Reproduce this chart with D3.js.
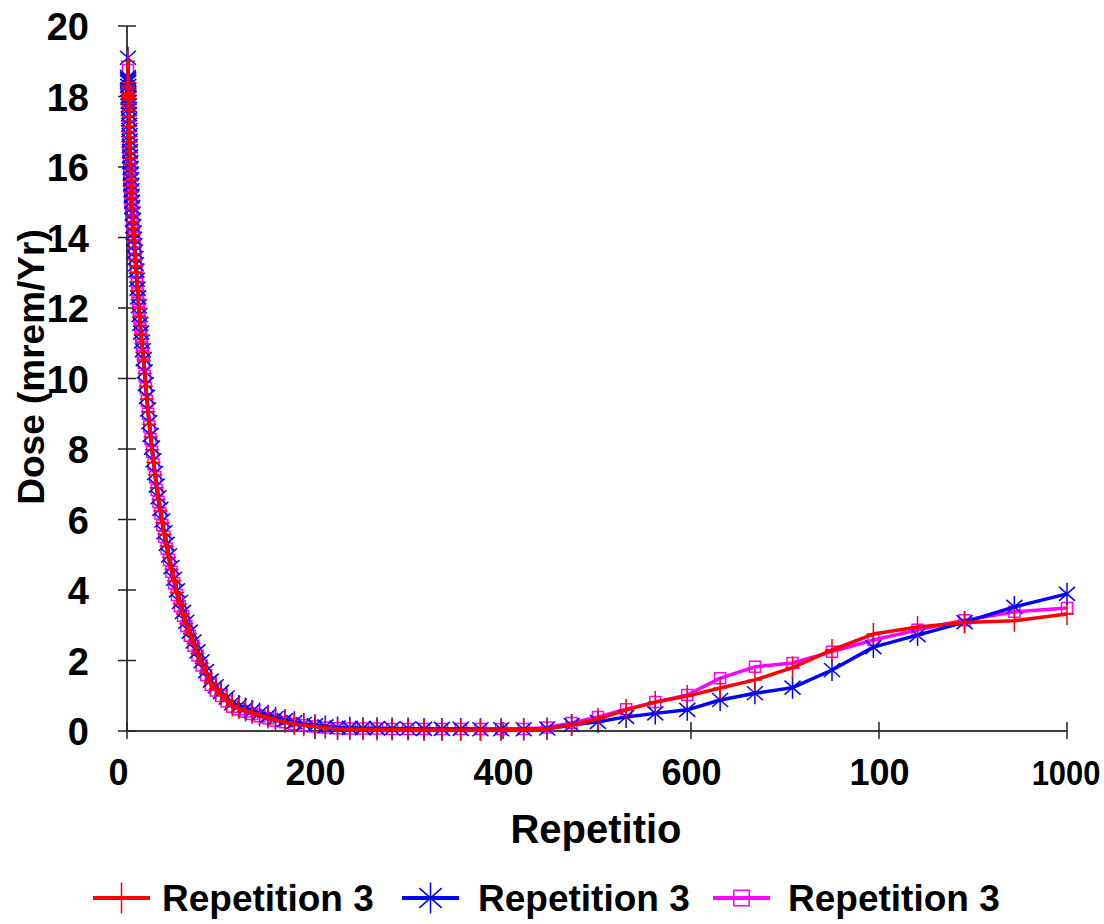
<!DOCTYPE html>
<html>
<head>
<meta charset="utf-8">
<script src="https://cdn.jsdelivr.net/npm/d3@7"></script>
<style>
  html, body { margin: 0; padding: 0; background: #fff; }
  svg { display: block; }
  text { font-family: "Liberation Sans", Arial, sans-serif; font-weight: bold; fill: #000; }
</style>
</head>
<body>
<svg id="chart" width="1104" height="924"></svg>
<script>
// ---------- data ----------
const repetition = [
  1, 1.06, 1.12, 1.19, 1.26, 1.33, 1.41, 1.5, 1.58, 1.68,
  1.78, 1.88, 2, 2.11, 2.24, 2.37, 2.51, 2.66, 2.82, 2.99,
  3.16, 3.35, 3.55, 3.76, 3.98, 4.22, 4.47, 4.73, 5.01, 5.31,
  5.62, 5.96, 6.31, 6.68, 7.08, 7.5, 7.94, 8.41, 8.91, 9.44,
  10, 10.6, 11.2, 11.9, 12.6, 13.3, 14.1, 15, 15.8, 16.8,
  17.8, 18.8, 20, 21.1, 22.4, 23.7, 25.1, 26.6, 28.2, 29.9,
  31.6, 33.5, 35.5, 37.6, 39.8, 42.2, 44.7, 47.3, 50.1, 53.1,
  56.2, 59.6, 63.1, 66.8, 70.8, 75, 79.4, 84.1, 89.1, 94.4,
  100, 106, 112, 119, 126, 133, 141, 150, 158, 168,
  178, 188, 200, 211, 224, 237, 251, 266, 282, 299,
  316, 335, 355, 376, 398, 422, 447, 473, 501, 531,
  562, 596, 631, 668, 708, 750, 794, 841, 891, 944,
  1000
];

const doseRed = [
  19.0, 18.4, 18.3, 18.25, 18.2, 18.1, 18.05, 18.0, 17.95, 17.9,
  17.8, 17.7, 17.6, 17.45, 17.3, 17.15, 17.0, 16.85, 16.7, 16.55,
  16.4, 16.24, 16.08, 15.92, 15.76, 15.6, 15.44, 15.28, 15.12, 14.96,
  14.8, 14.62, 14.44, 14.26, 14.08, 13.9, 13.72, 13.54, 13.36, 13.18,
  13.0, 12.75, 12.5, 12.25, 12.0, 11.75, 11.5, 11.25, 11.0, 10.75,
  10.5, 10.14, 9.78, 9.42, 9.06, 8.7, 8.34, 7.98, 7.62, 7.26,
  6.9, 6.57, 6.24, 5.91, 5.58, 5.25, 4.92, 4.59, 4.26, 3.93,
  3.6, 3.32, 3.04, 2.76, 2.48, 2.2, 1.92, 1.64, 1.36, 1.2,
  1.04, 0.88, 0.72, 0.65, 0.58, 0.51, 0.44, 0.38, 0.32, 0.26,
  0.2, 0.165, 0.13, 0.095, 0.06, 0.05, 0.05, 0.04, 0.04, 0.04,
  0.03, 0.03, 0.03, 0.03, 0.03, 0.04, 0.06, 0.17, 0.34, 0.6,
  0.82, 0.99, 1.22, 1.45, 1.8, 2.3, 2.75, 2.95, 3.08, 3.13,
  3.32
];

const doseBlue = [
  19.1, 18.55, 18.5, 18.45, 18.4, 18.3, 18.2, 18.1, 18.0, 17.95,
  17.85, 17.75, 17.65, 17.5, 17.35, 17.2, 17.05, 16.9, 16.75, 16.6,
  16.45, 16.3, 16.14, 15.98, 15.82, 15.66, 15.5, 15.34, 15.18, 15.02,
  14.86, 14.68, 14.5, 14.32, 14.14, 13.96, 13.78, 13.6, 13.42, 13.24,
  13.06, 12.8, 12.55, 12.3, 12.05, 11.8, 11.55, 11.3, 11.05, 10.8,
  10.55, 10.2, 9.84, 9.48, 9.12, 8.76, 8.4, 8.04, 7.68, 7.32,
  6.96, 6.63, 6.3, 5.97, 5.64, 5.31, 4.98, 4.65, 4.32, 3.99,
  3.66, 3.38, 3.1, 2.82, 2.54, 2.26, 1.98, 1.7, 1.43, 1.27,
  1.11, 0.95, 0.79, 0.71, 0.64, 0.57, 0.5, 0.43, 0.37, 0.31,
  0.25, 0.2, 0.16, 0.13, 0.1, 0.09, 0.08, 0.08, 0.07, 0.07,
  0.06, 0.06, 0.06, 0.05, 0.05, 0.05, 0.07, 0.17, 0.26, 0.4,
  0.5, 0.6, 0.88, 1.07, 1.23, 1.73, 2.38, 2.72, 3.09, 3.52,
  3.89
];

const doseMagenta = [
  18.75, 18.2, 18.05, 17.9, 17.75, 17.6, 17.45, 17.3, 17.15, 17.0,
  16.85, 16.7, 16.55, 16.4, 16.25, 16.1, 15.95, 15.8, 15.65, 15.5,
  15.4, 15.3, 15.2, 15.1, 15.0, 14.9, 14.8, 14.7, 14.6, 14.5,
  14.4, 14.3, 14.2, 14.1, 14.0, 13.85, 13.7, 13.54, 13.36, 13.18,
  13.0, 12.72, 12.46, 12.2, 11.95, 11.7, 11.45, 11.2, 10.95, 10.7,
  10.45, 10.08, 9.72, 9.36, 9.0, 8.64, 8.28, 7.92, 7.56, 7.2,
  6.84, 6.5, 6.17, 5.84, 5.51, 5.18, 4.85, 4.52, 4.19, 3.86,
  3.54, 3.26, 2.98, 2.7, 2.42, 2.14, 1.86, 1.58, 1.31, 1.15,
  0.99, 0.84, 0.69, 0.62, 0.55, 0.48, 0.42, 0.36, 0.3, 0.25,
  0.19, 0.16, 0.13, 0.1, 0.08, 0.07, 0.07, 0.07, 0.06, 0.06,
  0.06, 0.06, 0.06, 0.06, 0.06, 0.06, 0.1, 0.23, 0.4, 0.62,
  0.82, 1.02, 1.5, 1.82, 1.93, 2.25, 2.58, 2.87, 3.14, 3.38,
  3.49
];

const seriesNames = ["Repetition 3", "Repetition 3", "Repetition 3"];
const seriesColors = ["#FF0000", "#0000FF", "#FF00FF"];
const seriesMarkers = ["cross", "star", "square"];

const xTickValues = [0, 200, 400, 600, 800, 1000];
const xTickLabels = ["0", "200", "400", "600", "100", "1000"];
const yTickValues = [0, 2, 4, 6, 8, 10, 12, 14, 16, 18, 20];

const xTitle = "Repetitio";
const yTitle = "Dose (mrem/Yr)";

// ---------- layout ----------
const svg = d3.select("#chart");
const plot = { left: 127, right: 1067, top: 26, bottom: 731 };

const x = d3.scaleLinear().domain([0, 1000]).range([plot.left, plot.right]);
const y = d3.scaleLinear().domain([0, 20]).range([plot.bottom, plot.top]);

const markerPaths = {
  cross: "M0,-11V11M-7,0H7",
  star: "M0,-11V11M-8,-7L8,7M-8,7L8,-7",
  square: "M-5.5,-5.5H5.5V5.5H-5.5Z"
};

// ---------- axes ----------
const yAxis = d3.axisLeft(y).tickValues(yTickValues).tickSize(0).tickFormat(d3.format("d"));
const yG = svg.append("g").attr("transform", `translate(${plot.left},0)`).call(yAxis);
yG.select(".domain").remove();
yG.selectAll("text")
  .attr("x", -38).attr("dy", "0.36em")
  .style("font-size", "38px");

const xAxis = d3.axisBottom(x).tickValues(xTickValues).tickSize(0)
  .tickFormat((d, i) => xTickLabels[i]);
const xG = svg.append("g").attr("transform", `translate(0,${plot.bottom})`).call(xAxis);
xG.select(".domain").remove();
xG.selectAll("text")
  .attr("y", 54).attr("dy", 0)
  .attr("dx", d => d === 0 ? -9 : 0)
  .style("font-size", "36px");
// the last label is narrowed so it stays inside the right edge, as in the original
xG.selectAll("text").filter(d => d === 1000)
  .attr("text-anchor", "end").attr("x", 0).attr("dx", 0)
  .attr("transform", "translate(33,0) scale(0.86,1)");

// axis lines and crossing ticks
svg.append("line").attr("x1", plot.left).attr("x2", plot.left)
  .attr("y1", plot.top).attr("y2", plot.bottom)
  .attr("stroke", "#000").attr("stroke-width", 1.5);
svg.append("line").attr("x1", plot.left).attr("x2", plot.right)
  .attr("y1", plot.bottom).attr("y2", plot.bottom)
  .attr("stroke", "#000").attr("stroke-width", 1.5);
svg.append("g").selectAll("line").data(yTickValues).join("line")
  .attr("x1", plot.left - 9).attr("x2", plot.left + 9)
  .attr("y1", d => y(d)).attr("y2", d => y(d))
  .attr("stroke", "#222").attr("stroke-width", 1.5);
svg.append("g").selectAll("line").data(xTickValues).join("line")
  .attr("x1", d => x(d)).attr("x2", d => x(d))
  .attr("y1", plot.bottom - 9).attr("y2", plot.bottom + 8)
  .attr("stroke", "#222").attr("stroke-width", 1.5);

// titles
svg.append("text").attr("x", 596).attr("y", 843)
  .attr("text-anchor", "middle").style("font-size", "40px").text(xTitle);
svg.append("text")
  .attr("transform", `translate(44,367) rotate(-90)`)
  .attr("text-anchor", "middle").style("font-size", "37px").text(yTitle);

// ---------- series ----------
const seriesData = [doseRed, doseBlue, doseMagenta];
const drawOrder = [2, 1, 0];
const line = d3.line().x(d => x(d[0])).y(d => y(d[1]));

drawOrder.forEach(i => {
  const pts = repetition.map((r, j) => [r, seriesData[i][j]]);
  const g = svg.append("g");
  g.append("path").datum(pts)
    .attr("d", line)
    .attr("fill", "none")
    .attr("stroke", seriesColors[i])
    .attr("stroke-width", 3.5)
    .attr("stroke-linejoin", "round");
  g.selectAll("path.m").data(pts).join("path")
    .attr("class", "m")
    .attr("transform", d => `translate(${x(d[0])},${y(d[1])})`)
    .attr("d", markerPaths[seriesMarkers[i]])
    .attr("fill", "none")
    .attr("stroke", seriesColors[i])
    .attr("stroke-width", 1.5);
});

// ---------- legend ----------
const legendX = [93, 402, 713];
const legendTextX = [162, 478, 788];
const legendY = 898;
seriesNames.forEach((name, i) => {
  const g = svg.append("g").attr("transform", `translate(${legendX[i]},${legendY})`);
  g.append("line").attr("x1", 0).attr("x2", 57).attr("y1", 0).attr("y2", 0)
    .attr("stroke", seriesColors[i]).attr("stroke-width", 4);
  g.append("path").attr("transform", "translate(28.5,0) scale(1.4)")
    .attr("d", markerPaths[seriesMarkers[i]])
    .attr("fill", "none").attr("stroke", seriesColors[i]).attr("stroke-width", 1.1);
  svg.append("text").attr("x", legendTextX[i]).attr("y", legendY + 13)
    .style("font-size", "37px").text(name);
});
</script>
</body>
</html>
